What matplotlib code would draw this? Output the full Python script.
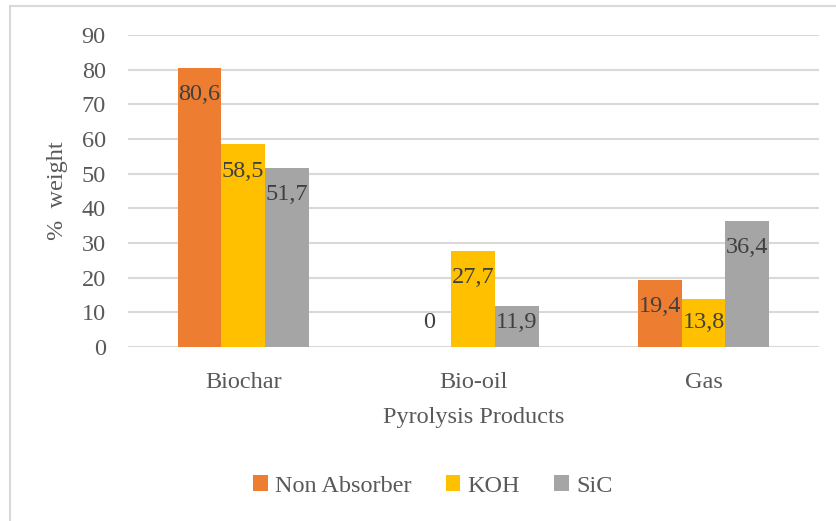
import numpy as np
import matplotlib.pyplot as plt
from matplotlib.lines import Line2D

categories = ['Biochar', 'Bio-oil', 'Gas']
series_names = ['Non Absorber', 'KOH', 'SiC']
non_absorber = [80.6, 0, 19.4]
koh = [58.5, 27.7, 13.8]
sic = [51.7, 11.9, 36.4]
colors = ['#ED7D31', '#FFC000', '#A5A5A5']

plt.rcParams['font.family'] = ['Liberation Serif', 'DejaVu Serif']
fs = 17.5

fig = plt.figure(figsize=(8.37, 5.21), dpi=100)
ax = fig.add_axes([0.153, 0.334, 0.825, 0.599])

x = np.arange(len(categories))
width = 0.19
for i, (vals, name) in enumerate(zip([non_absorber, koh, sic], series_names)):
    pos = x + (i - 1) * width
    ax.bar(pos, vals, width, color=colors[i], label=name, zorder=3)
    for p, v in zip(pos, vals):
        # inside end, but kept above the axis
        ty = max(v - 7.8, 7.2)
        ax.text(p, ty, f'{v:g}'.replace('.', ','), ha='center', va='center',
                fontsize=fs, color='#404040', zorder=4)

ax.set_xlim(-0.5, 2.5)
ax.set_ylim(0, 90)
ax.set_yticks(np.arange(0, 91, 10))
ax.set_xticks(x)
ax.set_xticklabels(categories)
ax.tick_params(axis='both', length=0, labelsize=fs, colors='#595959')
ax.tick_params(axis='y', pad=16)
ax.tick_params(axis='x', pad=18)
ax.grid(axis='y', color='#D9D9D9', linewidth=1.5, zorder=0)
for s in ax.spines.values():
    s.set_visible(False)

ax.set_xlabel('Pyrolysis Products', fontsize=fs, color='#595959', labelpad=10)
ax.set_ylabel('%  weight', fontsize=fs, color='#595959', labelpad=10)

# chart border
fig.add_artist(Line2D([0.012, 1.0], [0.9885, 0.9885], color='#D9D9D9', lw=1.5))
fig.add_artist(Line2D([0.012, 0.012], [0.0, 0.9885], color='#D9D9D9', lw=1.5))

handles, labels = ax.get_legend_handles_labels()
leg = fig.legend(handles, labels, loc='center', bbox_to_anchor=(433 / 837, 1 - 486 / 521),
                 ncol=3, frameon=False, fontsize=fs, handlelength=0.6, handleheight=0.6,
                 handletextpad=0.3, columnspacing=1.4)
for t in leg.get_texts():
    t.set_color('#595959')

fig.savefig('out.png', dpi=100)
